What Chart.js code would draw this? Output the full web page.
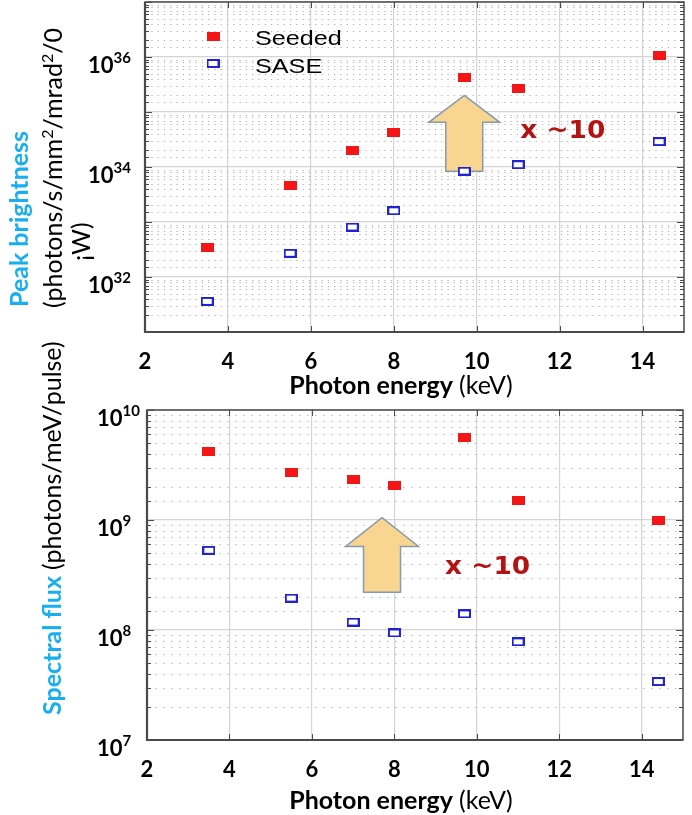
<!DOCTYPE html>
<html>
<head>
<meta charset="utf-8">
<script src="https://cdn.jsdelivr.net/npm/chart.js@4.4.1/dist/chart.umd.min.js"></script>
<style>
  body { margin: 0; background: #fff; }
  canvas { position: absolute; left: 0; top: 0; }
</style>
</head>
<body>
<canvas id="brightChart" width="692" height="815"></canvas>
<canvas id="fluxChart" width="692" height="815"></canvas>
<script>
// photon energies (keV) of the seven operating points
const energies = [3.5, 5.5, 7.0, 8.0, 9.7, 11.0, 14.4];

// peak brightness, photons/s/mm2/mrad2/0.1%BW
const brightSeeded = [3.5e32, 4.6e33, 2.0e34, 4.3e34, 4.2e35, 2.7e35, 1.07e36];
const brightSase = [3.6e31, 2.7e32, 8.1e32, 1.6e33, 8.4e33, 1.1e34, 2.9e34];

// spectral flux, photons/meV/pulse
const fluxSeeded = [4.2e9, 2.7e9, 2.35e9, 2.05e9, 5.6e9, 1.5e9, 1.0e9];
const fluxSase = [5.3e8, 1.95e8, 1.18e8, 9.4e7, 1.4e8, 7.8e7, 3.4e7];

const seriesNames = ['Seeded', 'SASE'];
const energyTicks = [2, 4, 6, 8, 10, 12, 14];
const brightExponents = [32, 34, 36];
const fluxExponents = [7, 8, 9, 10];

const CYAN = '#18aff0';
const RED = '#f41616';
const BLUE = '#2222d4';
const AXIS = '#4a4a4a';

function makeMarker(w, h, fill, stroke) {
    const c = document.createElement('canvas');
    c.width = w;
    c.height = h;
    const g = c.getContext('2d');
    g.fillStyle = fill;
    g.fillRect(0, 0, w, h);
    if (stroke) {
        g.strokeStyle = stroke;
        g.lineWidth = 2;
        g.strokeRect(1, 1, w - 2, h - 2);
    }
    return c;
}
const seededMarker = makeMarker(13, 9, RED, null);
const saseMarker = makeMarker(13, 9, '#ffffff', BLUE);

// draws a run of text pieces (font / colour / superscript) along a baseline
function drawRich(ctx, parts, x, y, angle, sx) {
    ctx.save();
    ctx.translate(x, y);
    ctx.rotate(angle || 0);
    if (sx) ctx.scale(sx, 1);
    ctx.textBaseline = 'alphabetic';
    ctx.textAlign = 'left';
    let cx = 0;
    parts.forEach(p => {
        ctx.font = p.font;
        ctx.fillStyle = p.color || '#000';
        ctx.fillText(p.text, cx, -(p.rise || 0));
        cx += ctx.measureText(p.text).width;
    });
    ctx.restore();
    return cx;
}

function richWidth(ctx, parts) {
    let w = 0;
    parts.forEach(p => { ctx.font = p.font; w += ctx.measureText(p.text).width; });
    return w;
}

function isDecade(v) {
    const l = Math.log10(v);
    return Math.abs(l - Math.round(l)) < 1e-6;
}

const xTitle = [
    { text: 'Photon energy ', font: 'bold 25px Lato' },
    { text: '(keV)', font: '25px Lato' }
];

function drawArrow(ctx, cx, tipY, headY, baseY, headHalf, shaftHalf) {
    ctx.save();
    ctx.beginPath();
    ctx.moveTo(cx, tipY);
    ctx.lineTo(cx + headHalf, headY);
    ctx.lineTo(cx + shaftHalf, headY);
    ctx.lineTo(cx + shaftHalf, baseY);
    ctx.lineTo(cx - shaftHalf, baseY);
    ctx.lineTo(cx - shaftHalf, headY);
    ctx.lineTo(cx - headHalf, headY);
    ctx.closePath();
    ctx.fillStyle = '#f9d592';
    ctx.fill();
    ctx.strokeStyle = '#8a99ab';
    ctx.lineWidth = 1.5;
    ctx.stroke();
    ctx.restore();
}

function decorPlugin(opts) {
    return {
        id: 'decor',
        beforeDatasetsDraw(chart) {
            const ctx = chart.ctx;
            const a = chart.chartArea;
            const y = chart.scales.y;
            const x = chart.scales.x;
            // dotted minor grid
            ctx.save();
            ctx.strokeStyle = opts.minorColor;
            ctx.lineWidth = 1;
            ctx.setLineDash(opts.minorDash);
            y.ticks.forEach(t => {
                if (isDecade(t.value)) return;
                const py = Math.round(y.getPixelForValue(t.value)) + 0.5;
                ctx.beginPath();
                ctx.moveTo(a.left, py);
                ctx.lineTo(a.right, py);
                ctx.stroke();
            });
            ctx.restore();
            const ar = opts.arrow;
            drawArrow(ctx, x.getPixelForValue(ar.x), y.getPixelForValue(ar.tip),
                y.getPixelForValue(ar.head), y.getPixelForValue(ar.base), ar.headHalf, ar.shaftHalf);
        },
        afterDraw(chart) {
            const ctx = chart.ctx;
            const a = chart.chartArea;
            const y = chart.scales.y;
            const x = chart.scales.x;

            // frame and inward ticks
            ctx.save();
            ctx.strokeStyle = AXIS;
            ctx.lineWidth = 1.5;
            ctx.strokeRect(a.left, a.top, a.right - a.left, a.bottom - a.top);
            ctx.lineWidth = 2.2;
            ctx.beginPath();
            ctx.moveTo(a.left, a.top);
            ctx.lineTo(a.left, a.bottom);
            ctx.lineTo(a.right, a.bottom);
            ctx.stroke();
            ctx.lineWidth = 1;
            ctx.beginPath();
            y.ticks.forEach(t => {
                const py = Math.round(y.getPixelForValue(t.value)) + 0.5;
                const len = isDecade(t.value) ? 7 : 4;
                ctx.moveTo(a.left, py); ctx.lineTo(a.left + len, py);
                ctx.moveTo(a.right, py); ctx.lineTo(a.right - len, py);
            });
            energyTicks.forEach(v => {
                const px = Math.round(x.getPixelForValue(v)) + 0.5;
                ctx.moveTo(px, a.bottom); ctx.lineTo(px, a.bottom - 6);
                ctx.moveTo(px, a.top); ctx.lineTo(px, a.top + 6);
            });
            ctx.stroke();
            ctx.restore();

            // energy tick labels
            ctx.save();
            ctx.font = 'bold 22px Lato';
            ctx.fillStyle = '#000';
            ctx.textAlign = 'center';
            ctx.textBaseline = 'alphabetic';
            energyTicks.forEach(v => {
                ctx.fillText(String(v), x.getPixelForValue(v), a.bottom + 37);
            });
            ctx.restore();

            // decade labels 10^n
            opts.exponents.forEach(e => {
                const py = y.getPixelForValue(Math.pow(10, e));
                drawRich(ctx, [
                    { text: '10', font: 'bold 22px Lato' },
                    { text: String(e), font: 'bold 15px Lato', rise: 10 }
                ], opts.labelX, py + 16);
            });

            // x axis title
            const tw = richWidth(ctx, xTitle);
            drawRich(ctx, xTitle, opts.titleX - tw / 2, opts.titleY);

            // factor note
            const n = opts.note;
            drawRich(ctx, [{ text: 'x ~10', font: 'bold 24px "DejaVu Sans"', color: '#b41313' }],
                x.getPixelForValue(n.x), y.getPixelForValue(n.y), 0, 1.1);

            if (opts.extra) opts.extra(chart, ctx);
        }
    };
}

function dataset(label, values, marker) {
    return {
        label: label,
        data: energies.map((e, i) => ({ x: e, y: values[i] })),
        pointStyle: marker,
        pointRadius: 6,
        showLine: false
    };
}

function buildChart(id, seeded, sase, yMin, yMax, padding, plugin) {
    return new Chart(document.getElementById(id), {
        type: 'scatter',
        data: {
            datasets: [
                dataset(seriesNames[0], seeded, seededMarker),
                dataset(seriesNames[1], sase, saseMarker)
            ]
        },
        options: {
            responsive: false,
            animation: false,
            events: [],
            layout: { padding: padding, autoPadding: false },
            plugins: { legend: { display: false }, tooltip: { enabled: false } },
            scales: {
                x: {
                    type: 'linear',
                    min: 2,
                    max: 15,
                    afterBuildTicks: s => { s.ticks = energyTicks.map(v => ({ value: v })); },
                    afterFit: s => { s.height = 0; },
                    grid: { color: '#d4d4d4', lineWidth: 1.2, drawTicks: false },
                    border: { display: false },
                    ticks: { display: false, autoSkip: false }
                },
                y: {
                    type: 'logarithmic',
                    min: yMin,
                    max: yMax,
                    afterFit: s => { s.width = 0; },
                    grid: {
                        color: c => (c.tick && isDecade(c.tick.value)) ? '#d4d4d4' : 'rgba(0,0,0,0)',
                        lineWidth: 1.2,
                        drawTicks: false
                    },
                    border: { display: false },
                    ticks: { display: false, autoSkip: false }
                }
            }
        },
        plugins: [plugin]
    });
}

// top panel: peak brightness
buildChart('brightChart', brightSeeded, brightSase, 1e31, 1e37,
    { left: 145, top: 2, right: 8, bottom: 483 },
    decorPlugin({
        exponents: brightExponents,
        labelX: 88,
        titleX: 401,
        titleY: 394,
        minorColor: '#b4b4b4',
        minorDash: [1.3, 5],
        arrow: { x: 9.7, tip: 2.0e35, head: 6.5e34, base: 8.4e33, headHalf: 35.5, shaftHalf: 18.5 },
        note: { x: 11.05, y: 3.4e34 },
        extra(chart, ctx) {
            const a = chart.chartArea;
            // legend
            [seededMarker, saseMarker].forEach((m, i) => {
                const cy = a.top + 34 + i * 27.5;
                ctx.drawImage(m, a.left + 68 - m.width / 2, cy - m.height / 2);
                drawRich(ctx, [{ text: seriesNames[i], font: '21px "Liberation Sans"' }],
                    a.left + 110, cy + 9, 0, 1.2);
            });
            // y axis title
            drawRich(ctx, [{ text: 'Peak brightness', font: 'bold 25px Lato', color: CYAN }],
                28, 307, -Math.PI / 2);
            drawRich(ctx, [
                { text: '(photons/s/mm', font: '25px Lato' },
                { text: '2', font: '16px Lato', rise: 9 },
                { text: '/mrad', font: '25px Lato' },
                { text: '2', font: '16px Lato', rise: 9 },
                { text: '/0', font: '25px Lato' }
            ], 62, 308, -Math.PI / 2);
            drawRich(ctx, [{ text: '\u00a1W)', font: '25px Lato' }], 90, 261, -Math.PI / 2);
        }
    }));

// bottom panel: spectral flux
buildChart('fluxChart', fluxSeeded, fluxSase, 1e7, 1e10,
    { left: 147, top: 410, right: 9, bottom: 75 },
    decorPlugin({
        exponents: fluxExponents,
        labelX: 97,
        titleX: 401,
        titleY: 809,
        minorColor: '#b8b8b8',
        minorDash: [1.5, 6.5],
        arrow: { x: 7.7, tip: 1.05e9, head: 5.75e8, base: 2.2e8, headHalf: 36.5, shaftHalf: 18.5 },
        note: { x: 9.23, y: 3.2e8 },
        extra(chart, ctx) {
            drawRich(ctx, [
                { text: 'Spectral flux ', font: 'bold 25px Lato', color: CYAN },
                { text: '(photons/meV/pulse)', font: '25px Lato' }
            ], 61, 715, -Math.PI / 2);
        }
    }));
</script>
</body>
</html>
